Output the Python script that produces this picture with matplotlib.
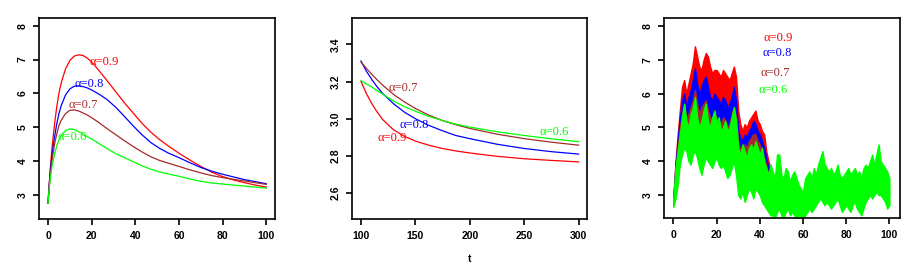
import matplotlib
matplotlib.use('Agg')
import matplotlib.pyplot as plt

# colours as in the R defaults
COLORS = {'0.9': '#ff0000', '0.8': '#0000ff', '0.7': '#a52a2a', '0.6': '#00ff00'}
ORDER = ['0.9', '0.8', '0.7', '0.6']

# panel 1: 0 <= t <= 100
t1 = [0, 0.5, 1, 1.5, 2, 3, 4, 5, 6, 8, 10, 12, 14, 16, 18, 20, 23, 27, 31, 35,
      39, 43, 47, 51, 55, 60, 65, 70, 75, 80, 85, 90, 95, 100]
p1_09 = [2.75, 3.3, 3.75, 4.15, 4.5, 5.1, 5.6, 6.0, 6.3, 6.72, 6.97, 7.1, 7.14, 7.12, 7.04, 6.93, 6.7, 6.38, 6.05, 5.72,
         5.42, 5.12, 4.86, 4.64, 4.45, 4.23, 4.03, 3.84, 3.67, 3.54, 3.44, 3.36, 3.29, 3.23]
p1_08 = [2.75, 3.25, 3.65, 3.98, 4.27, 4.72, 5.1, 5.4, 5.63, 5.95, 6.13, 6.21, 6.22, 6.2, 6.16, 6.1, 5.99, 5.82, 5.59, 5.32,
         5.04, 4.78, 4.55, 4.38, 4.24, 4.1, 3.95, 3.81, 3.7, 3.61, 3.53, 3.45, 3.39, 3.33]
p1_07 = [2.75, 3.2, 3.55, 3.85, 4.1, 4.5, 4.8, 5.05, 5.2, 5.4, 5.5, 5.51, 5.48, 5.42, 5.36, 5.28, 5.15, 4.96, 4.78, 4.6,
         4.43, 4.27, 4.13, 4.02, 3.94, 3.84, 3.74, 3.65, 3.57, 3.51, 3.46, 3.41, 3.36, 3.31]
p1_06 = [2.75, 3.15, 3.45, 3.7, 3.9, 4.2, 4.45, 4.62, 4.75, 4.9, 4.95, 4.93, 4.87, 4.8, 4.72, 4.65, 4.53, 4.37, 4.22, 4.1,
         3.98, 3.86, 3.76, 3.68, 3.62, 3.55, 3.47, 3.4, 3.35, 3.32, 3.29, 3.26, 3.23, 3.2]

# panel 2: 100 <= t <= 300
t2 = [100, 105, 110, 115, 120, 130, 140, 150, 162, 175, 187, 200, 225, 250, 275, 300]
p2_09 = [3.2, 3.135, 3.08, 3.035, 2.995, 2.94, 2.905, 2.88, 2.858, 2.84, 2.827, 2.816, 2.798, 2.785, 2.776, 2.768]
p2_08 = [3.31, 3.255, 3.21, 3.17, 3.135, 3.08, 3.035, 3.0, 2.965, 2.935, 2.91, 2.893, 2.863, 2.84, 2.823, 2.81]
p2_07 = [3.305, 3.27, 3.238, 3.208, 3.18, 3.13, 3.09, 3.055, 3.02, 2.99, 2.968, 2.948, 2.917, 2.893, 2.874, 2.858]
p2_06 = [3.205, 3.187, 3.17, 3.15, 3.132, 3.095, 3.065, 3.04, 3.013, 2.99, 2.971, 2.955, 2.93, 2.91, 2.892, 2.877]

# panel 3: simulated paths are too dense to follow, so keep the band they
# cover, upper and lower edge per unit of t
t3 = list(range(0, 101))
hi_06 = [2.9, 3.8, 4.3, 4.8, 5.3, 5.7, 5.2, 5.0, 5.4, 5.6,
         5.9, 5.3, 5.0, 5.2, 5.5, 5.7, 5.2, 5.0, 5.3, 5.5,
         5.1, 5.3, 4.9, 5.0, 5.2, 4.9, 5.0, 5.3, 5.6, 5.2,
         4.4, 4.2, 4.5, 4.3, 4.1, 4.4, 4.5, 4.3, 4.6, 4.4,
         4.2, 4.4, 4.0, 3.8, 3.6, 3.9, 3.7, 3.5, 4.2, 4.2,
         3.6, 3.5, 3.8, 3.7, 3.4, 3.6, 3.7, 3.5, 3.3, 3.2,
         3.1, 3.5, 3.6, 3.7, 3.5, 3.8, 3.6, 3.9, 4.1, 4.3,
         3.9, 3.8, 3.7, 3.8, 3.6, 3.7, 3.9, 3.6, 3.5, 3.6,
         3.7, 3.8, 3.6, 3.7, 3.8, 3.6, 3.7, 3.5, 3.8, 3.9,
         3.8, 4.0, 4.2, 3.9, 4.2, 4.5, 4.0, 3.9, 3.8, 3.7, 3.5]
lo_06 = [2.65, 2.9, 3.3, 3.9, 4.2, 4.4, 4.3, 4.0, 3.9, 4.2,
         4.3, 4.1, 3.8, 3.6, 3.9, 4.1, 4.0, 3.9, 3.8, 4.0,
         4.1, 3.9, 3.8, 3.9, 3.7, 3.5, 3.6, 3.8, 4.0, 3.6,
         3.0, 2.9, 3.1, 2.8, 3.0, 3.2, 3.1, 2.9, 3.2, 3.1,
         3.0, 2.8, 2.7, 2.6, 2.5, 2.4, 2.4, 2.3, 2.5, 2.6,
         2.4, 2.3, 2.5, 2.6, 2.4, 2.5, 2.4, 2.3, 2.3, 2.3,
         2.3, 2.4, 2.5, 2.6, 2.5, 2.6, 2.7, 2.8, 2.9, 2.8,
         2.7, 2.8, 2.7, 2.6, 2.7, 2.8, 2.9, 2.7, 2.5, 2.6,
         2.7, 2.6, 2.5, 2.7, 2.8, 2.6, 2.5, 2.4, 2.6, 2.8,
         2.9, 3.0, 2.9, 3.0, 3.1, 3.0, 3.0, 2.9, 2.8, 2.6, 2.7]
# the other paths separate from the green one only up to t = 45
t3_head = list(range(0, 46))
hi_09 = [2.9, 4.0, 4.8, 5.5, 6.2, 6.4, 6.0, 6.3, 6.6, 6.9,
         7.4, 7.1, 6.8, 6.7, 7.0, 7.2, 7.1, 6.8, 6.6, 6.7,
         6.7, 6.6, 6.5, 6.7, 6.6, 6.5, 6.4, 6.6, 6.8, 6.5,
         5.5, 5.1, 4.9, 5.1, 5.0, 5.2, 5.3, 5.4, 5.5, 5.2,
         5.1, 4.9, 4.8, 4.3, 4.0, 3.8]
lo_09 = [2.7, 3.2, 3.8, 4.6, 5.0, 5.4, 5.6, 5.8, 5.9, 6.0,
         6.2, 6.1, 6.0, 5.9, 6.0, 6.2, 6.0, 5.9, 5.8, 5.9,
         5.9, 5.7, 5.8, 5.7, 5.6, 5.6, 5.5, 5.7, 5.8, 5.5,
         4.7, 4.6, 4.5, 4.6, 4.5, 4.6, 4.7, 4.6, 4.7, 4.6,
         4.5, 4.3, 4.1, 3.8, 3.4, 3.0]
hi_08 = [2.9, 3.9, 4.6, 5.3, 5.8, 6.0, 5.6, 5.9, 6.1, 6.4,
         6.75, 6.3, 6.0, 6.2, 6.4, 6.5, 6.2, 5.9, 5.8, 6.0,
         5.9, 5.8, 5.7, 5.9, 5.8, 5.6, 5.7, 5.9, 6.2, 5.8,
         4.9, 4.7, 4.6, 4.8, 4.7, 4.9, 5.0, 5.2, 5.1, 4.9,
         4.8, 4.6, 4.4, 4.1, 3.8, 3.6]
lo_08 = [2.7, 3.1, 3.7, 4.4, 4.8, 5.0, 5.1, 5.2, 5.3, 5.4,
         5.5, 5.4, 5.3, 5.2, 5.3, 5.4, 5.2, 5.1, 5.0, 5.1,
         5.1, 5.0, 4.9, 5.0, 4.9, 4.8, 4.8, 5.0, 5.1, 4.8,
         4.2, 4.1, 4.0, 4.2, 4.1, 4.2, 4.3, 4.3, 4.4, 4.2,
         4.1, 3.9, 3.7, 3.5, 3.1, 2.8]
hi_07 = [2.9, 3.8, 4.4, 5.0, 5.4, 5.7, 5.2, 5.4, 5.6, 5.8,
         6.1, 5.7, 5.4, 5.6, 5.7, 5.8, 5.5, 5.3, 5.2, 5.4,
         5.3, 5.2, 5.1, 5.3, 5.2, 5.0, 5.1, 5.4, 5.6, 5.3,
         4.5, 4.4, 4.3, 4.5, 4.4, 4.6, 4.7, 4.8, 4.8, 4.6,
         4.5, 4.3, 4.1, 3.9, 3.6, 3.4]
lo_07 = [2.7, 3.0, 3.5, 4.1, 4.5, 4.6, 4.6, 4.7, 4.6, 4.8,
         5.0, 4.8, 4.6, 4.5, 4.7, 4.8, 4.6, 4.5, 4.4, 4.5,
         4.5, 4.4, 4.3, 4.4, 4.3, 4.2, 4.2, 4.4, 4.6, 4.3,
         3.7, 3.6, 3.5, 3.7, 3.6, 3.7, 3.8, 3.8, 3.9, 3.7,
         3.6, 3.5, 3.3, 3.2, 2.9, 2.7]

# label anchors (left edge, vertical centre) per panel
lab1 = {'0.9': (19, 6.92), '0.8': (12, 6.27), '0.7': (9.5, 5.66), '0.6': (4.4, 4.72)}
lab2 = {'0.7': (125, 3.164), '0.8': (135, 2.967), '0.9': (115, 2.895), '0.6': (264, 2.927)}
lab3 = {'0.9': (41.7, 7.64), '0.8': (41.2, 7.19), '0.7': (40.2, 6.6), '0.6': (39.6, 6.1)}

TICKFONT = dict(family='Liberation Sans', size=7.5, weight='bold')
LABFONT = dict(family='Liberation Serif', size=9)


def style_axes(ax):
    for s in ax.spines.values():
        s.set_linewidth(1.2)
    ax.tick_params(direction='out', length=4.5, width=1.2, pad=4)
    for lab in ax.get_xticklabels() + ax.get_yticklabels():
        lab.set_fontfamily(TICKFONT['family'])
        lab.set_fontsize(TICKFONT['size'])
        lab.set_fontweight(TICKFONT['weight'])
    for lab in ax.get_yticklabels():
        lab.set_rotation(90)
        lab.set_va('center')


def add_labels(ax, labs):
    for a, (x, y) in labs.items():
        ax.text(x, y, '\u03b1=' + a, color=COLORS[a], ha='left', va='center', **LABFONT)


fig = plt.figure(figsize=(9.16, 2.72), dpi=100)
ax1 = fig.add_axes([0.0429, 0.194, 0.2573, 0.739])
ax2 = fig.add_axes([0.3846, 0.194, 0.2566, 0.739])
ax3 = fig.add_axes([0.7252, 0.197, 0.2573, 0.736])

# panel 1
for a, ys in zip(ORDER, [p1_09, p1_08, p1_07, p1_06]):
    ax1.plot(t1, ys, color=COLORS[a], lw=0.9)
ax1.set_xlim(-4, 104)
ax1.set_ylim(2.28, 8.22)
ax1.set_xticks([0, 20, 40, 60, 80, 100])
ax1.set_yticks([3, 4, 5, 6, 7, 8])
add_labels(ax1, lab1)

# panel 2
for a, ys in zip(ORDER, [p2_09, p2_08, p2_07, p2_06]):
    ax2.plot(t2, ys, color=COLORS[a], lw=0.9)
ax2.set_xlim(92, 308)
ax2.set_ylim(2.46, 3.54)
ax2.set_xticks([100, 150, 200, 250, 300])
ax2.set_yticks([2.6, 2.8, 3.0, 3.2, 3.4])
ax2.set_yticklabels(['2.6', '2.8', '3.0', '3.2', '3.4'])
ax2.set_xlabel('t', fontfamily='Liberation Sans', fontsize=7.5, fontweight='bold', labelpad=9)
add_labels(ax2, lab2)

# panel 3
bands = [(t3_head, lo_09, hi_09), (t3_head, lo_08, hi_08), (t3_head, lo_07, hi_07), (t3, lo_06, hi_06)]
for a, (tt, lo, hi) in zip(ORDER, bands):
    ax3.fill_between(tt, lo, hi, color=COLORS[a], lw=1.0, edgecolor=COLORS[a])
ax3.set_xlim(-4.2, 104.9)
ax3.set_ylim(2.31, 8.23)
ax3.set_xticks([0, 20, 40, 60, 80, 100])
ax3.set_yticks([3, 4, 5, 6, 7, 8])
add_labels(ax3, lab3)

for ax in (ax1, ax2, ax3):
    style_axes(ax)

fig.savefig('out.png', dpi=100)
